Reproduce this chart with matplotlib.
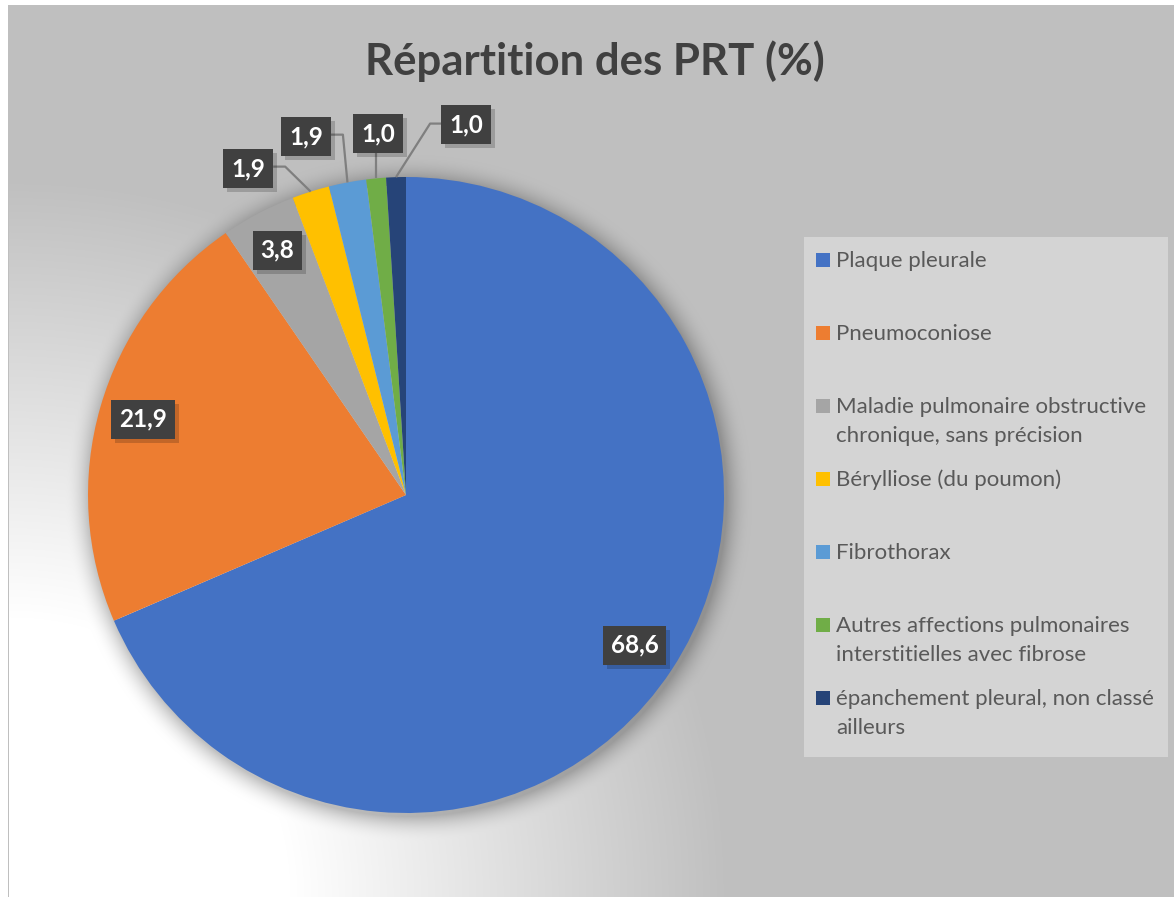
import numpy as np
import matplotlib
matplotlib.use("Agg")
import matplotlib.pyplot as plt
from matplotlib import patheffects as pe
from matplotlib.patches import Rectangle
import textwrap

# ---------------- data ----------------
title = "Répartition des PRT (%)"
categories = [
    "Plaque pleurale",
    "Pneumoconiose",
    "Maladie pulmonaire obstructive chronique, sans précision",
    "Bérylliose (du poumon)",
    "Fibrothorax",
    "Autres affections pulmonaires interstitielles avec fibrose",
    "épanchement pleural, non classé ailleurs",
]
values = [68.6, 21.9, 3.8, 1.9, 1.9, 1.0, 1.0]
value_labels = ["68,6", "21,9", "3,8", "1,9", "1,9", "1,0", "1,0"]

# ---------------- style ----------------
colors = ["#4472C4", "#ED7D31", "#A5A5A5", "#FFC000", "#5B9BD5", "#70AD47", "#264478"]
# label placement: (radius factor, angle in deg or None = wedge middle)
label_polar = [(0.86, None), (0.86, None), (0.87, None),
               (1.14, 115.8), (1.17, 105.6), (1.14, 94.4), (1.18, 80.8)]
FONT = "Lato"
W, H = 1174, 897
cx, cy, R = 406, 495, 318   # pie centre / radius in pixels (y from top)

fig = plt.figure(figsize=(W / 100, H / 100), dpi=100)

# ---------- background: radial gradient + pie shadow ----------
bg = fig.add_axes([0, 0, 1, 1])
bg.axis("off")
yy, xx = np.mgrid[0:H, 0:W].astype(float)
d = np.hypot(xx - 10, yy - 897)
t = np.clip((d - 280) / (720 - 280), 0, 1)
img = 255 - t * (255 - 191)
dp = np.hypot(xx - cx - 2, yy - cy - 3) - R
a = np.where(dp > -5, 0.24 * np.clip(1 - np.clip(dp, 0, None) / 26, 0, 1) ** 2, 0)
img = img * (1 - a)
img[:, :9] = 255
img[:6, :] = 255
img[6:, 8] = 191
img[5, 8:] = 191
rgb = np.dstack([img, img, img]) / 255.0
bg.imshow(rgb, extent=(0, W, H, 0), aspect="auto", interpolation="bilinear")
bg.set_xlim(0, W)
bg.set_ylim(H, 0)

# ---------- pie ----------
ax = fig.add_axes([(cx - 400) / W, (H - cy - 400) / H, 800 / W, 800 / H])
ax.patch.set_alpha(0)
wedges, _ = ax.pie(values, colors=colors, startangle=90, counterclock=False,
                   radius=R, wedgeprops=dict(linewidth=0))
ax.set_xlim(-400, 400)
ax.set_ylim(-400, 400)
ax.axis("off")

texts = []
anchors = []
for w, lab, (rf, ang) in zip(wedges, value_labels, label_polar):
    mid = np.deg2rad((w.theta1 + w.theta2) / 2)
    anchors.append((R * np.cos(mid), R * np.sin(mid)))
    aa = mid if ang is None else np.deg2rad(ang)
    tx, ty = rf * R * np.cos(aa), rf * R * np.sin(aa)
    txt = ax.text(tx, ty, lab, ha="center", va="center", color="white",
                  fontsize=17.5, fontweight="bold", family=FONT, zorder=5,
                  bbox=dict(boxstyle="square,pad=0.33", fc="#404040", ec="none"))
    txt.get_bbox_patch().set_path_effects(
        [pe.SimplePatchShadow(offset=(3, -3), shadow_rgbFace="black", alpha=0.18), pe.Normal()])
    texts.append((txt, rf))

fig.canvas.draw()
inv = ax.transData.inverted()
for (txt, rf), (axp, ayp) in zip(texts, anchors):
    if rf < 1:
        continue
    bb = txt.get_bbox_patch().get_window_extent()
    (x0, y0), (x1, y1) = inv.transform([[bb.x0, bb.y0], [bb.x1, bb.y1]])
    ymid = (y0 + y1) / 2
    if axp > x1:
        xs, ys = [x1, x1 + 12, axp], [ymid + 2, ymid + 2, ayp]
    elif axp < x0:
        xs, ys = [x0, x0 - 11, axp], [ymid + 1, ymid + 1, ayp]
    else:
        xs, ys = [axp, axp], [y0, ayp]
    ax.plot(xs, ys, color="#7F7F7F", lw=1.6, zorder=4, clip_on=False,
            solid_capstyle="butt")

# ---------- title ----------
fig.text(595 / W, 1 - 75 / H, title, ha="center", va="baseline", fontsize=31.5,
         fontweight="bold", color="#404040", family=FONT)

# ---------- legend ----------
bg.add_patch(Rectangle((804, 237), 364, 520, facecolor="#D4D4D4", edgecolor="none", zorder=2))
row_base = 267
row_step = 73
line_step = 29
for i, (cat, col) in enumerate(zip(categories, colors)):
    base = row_base + i * row_step
    bg.add_patch(Rectangle((816, base - 14), 14, 14, facecolor=col, edgecolor="none", zorder=3))
    for k, line in enumerate(textwrap.wrap(cat, 31)):
        bg.text(836, base + k * line_step, line, ha="left", va="baseline",
                fontsize=16, color="#595959", family=FONT, zorder=3)

fig.savefig("out.png", dpi=100)
